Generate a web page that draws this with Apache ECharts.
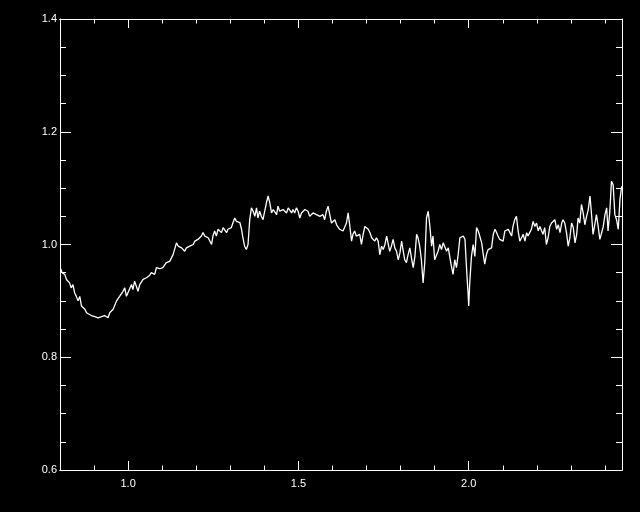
<!DOCTYPE html>
<html><head><meta charset="utf-8">
<script src="https://cdn.jsdelivr.net/npm/echarts@6/dist/echarts.min.js"></script>
<style>html,body{margin:0;padding:0;background:#000;}#c{width:640px;height:512px;}</style>
</head><body><div id="c"></div>
<script>
const wave = [
0.802,0.806,0.814,0.819,0.828,0.833,0.838,0.843,0.848,0.853,0.858,0.863,0.873,0.878,0.882,0.892,0.902,0.912,0.922,0.931,
0.941,0.946,0.956,0.966,0.975,0.980,0.985,0.990,0.995,1.000,1.010,1.014,1.019,1.024,1.029,1.034,1.044,1.054,1.063,1.068,
1.078,1.083,1.093,1.102,1.112,1.122,1.132,1.142,1.147,1.157,1.166,1.171,1.181,
1.191,1.196,1.201,1.205,1.210,1.215,1.220,1.225,1.230,1.235,1.240,1.245,1.249,1.254,1.259,1.264,1.269,1.274,1.279,1.284,
1.289,1.293,1.298,1.303,1.308,1.313,1.318,1.323,1.328,1.333,1.337,1.342,1.347,1.352,1.357,1.362,1.367,1.372,1.377,1.381,
1.386,1.391,1.396,1.401,1.406,1.411,1.416,1.421,1.426,1.431,1.436,1.440,1.445,1.450,1.455,1.460,1.465,1.470,1.475,1.480,
1.484,1.489,1.494,1.499,1.504,1.509,1.514,1.519,1.524,1.528,1.533,
1.538,1.543,1.548,1.553,1.558,1.563,1.568,1.572,1.577,1.582,1.587,1.592,1.597,1.602,1.607,1.612,1.616,1.621,1.626,1.631,
1.636,1.641,1.646,1.651,1.656,1.660,1.665,1.670,1.675,1.680,1.685,1.690,1.695,1.700,1.705,1.710,1.715,1.719,1.724,1.729,
1.734,1.739,1.744,1.749,1.754,1.759,1.763,1.768,1.773,1.778,1.783,1.788,1.793,1.798,1.803,1.807,1.812,1.817,1.822,1.827,
1.832,1.837,1.842,1.847,1.851,1.856,1.861,1.866,1.871,1.876,1.881,1.886,1.891,1.895,1.900,1.905,1.910,1.915,1.920,1.925,
1.930,1.935,
1.940,1.945,1.949,1.954,1.959,1.964,1.969,1.974,1.979,1.984,1.989,1.994,1.998,2.000,2.003,2.008,2.013,2.018,2.023,2.028,
2.033,2.038,2.042,2.047,2.052,2.057,2.062,2.067,2.072,2.077,2.082,2.086,2.091,
2.096,2.101,2.106,2.111,2.116,2.121,2.126,2.130,2.135,2.140,2.145,2.150,2.155,2.160,2.165,2.170,2.174,2.179,2.184,2.189,
2.194,2.199,2.204,2.209,2.214,2.218,2.223,2.228,2.233,2.238,2.243,2.248,2.253,2.258,2.263,2.268,2.273,2.277,2.282,2.287,
2.292,2.297,2.302,2.307,2.312,2.317,2.321,2.326,2.331,2.336,2.341,2.346,2.351,2.356,2.361,2.365,2.370,2.375,2.380,2.385,
2.390,2.395,2.400,2.405,2.409,2.414,2.419,2.424,2.429,2.434,2.439,2.444,2.449
];
const flux = [
0.957,0.950,0.947,0.938,0.932,0.923,0.929,0.914,0.908,0.900,0.908,0.891,0.885,0.879,0.876,0.874,0.872,0.870,0.872,0.874,
0.870,0.879,0.885,0.900,0.908,0.906,0.917,0.923,0.908,0.911,0.929,0.920,0.935,0.932,0.917,0.929,0.938,0.941,0.945,0.950,
0.947,0.959,0.957,0.959,0.968,0.970,0.982,1.003,0.997,0.994,0.988,0.994,0.997,
1.000,1.006,1.003,1.009,1.006,1.015,1.021,1.015,1.018,1.012,1.009,1.000,1.015,1.024,1.015,1.027,1.024,1.021,1.030,1.027,
1.021,1.027,1.024,1.030,1.039,1.047,1.041,1.039,1.039,1.027,1.012,0.997,0.991,1.000,1.044,1.065,1.059,1.050,1.065,1.047,
1.059,1.050,1.044,1.059,1.074,1.086,1.074,1.056,1.062,1.059,1.053,1.068,1.059,1.056,1.062,1.065,1.056,1.065,1.062,1.056,
1.062,1.056,1.065,1.059,1.047,1.056,1.059,1.062,1.065,1.059,1.050,
1.053,1.056,1.056,1.053,1.056,1.050,1.047,1.053,1.044,1.059,1.068,1.053,1.038,1.041,1.044,1.035,1.032,1.027,1.030,1.024,
1.027,1.038,1.056,1.032,1.006,1.018,1.024,1.015,1.012,1.018,1.000,1.018,1.032,1.035,1.027,1.021,1.012,1.015,1.006,1.012,
1.006,0.982,0.997,0.991,1.000,1.015,1.003,0.988,0.997,1.009,0.994,0.988,0.973,0.985,1.006,0.991,0.973,0.968,0.982,0.994,
0.976,0.959,0.979,1.018,1.012,0.997,0.973,0.932,0.968,1.047,1.059,1.032,0.997,1.015,0.973,0.976,0.988,1.000,0.991,1.003,
1.006,0.988,
0.994,0.976,0.962,0.947,0.973,0.959,0.982,1.012,1.009,1.015,1.009,0.953,0.914,0.891,0.932,0.979,1.000,0.979,1.030,1.024,
1.027,1.003,0.985,0.965,0.982,0.991,0.988,0.994,1.018,1.027,1.021,1.015,1.009,
1.009,1.006,1.024,1.021,1.027,1.021,1.015,1.032,1.044,1.050,1.024,1.006,1.012,1.018,1.006,1.021,1.015,1.021,1.027,1.041,
1.032,1.038,1.024,1.032,1.024,1.018,1.030,1.000,1.012,1.032,1.038,1.041,1.044,1.027,1.035,1.021,1.038,1.044,1.038,1.021,
0.997,1.012,1.038,1.030,1.003,1.018,1.047,1.038,1.071,1.056,1.035,1.050,1.062,1.086,1.050,1.018,1.035,1.053,1.032,1.009,
1.012,1.032,1.053,1.065,1.024,1.056,1.112,1.106,1.053,1.044,1.027,1.080,1.103
];
const xMajorTicks = [1.0, 1.5, 2.0];
const xMinorTicks = [0.9, 1.1, 1.2, 1.3, 1.4, 1.6, 1.7, 1.8, 1.9, 2.1, 2.2, 2.3, 2.4];
const xMin = 0.8, xMax = 2.45;
const yMin = 0.6, yMax = 1.4, yStep = 0.2;

const white = '#ffffff';
const font = {color: white, fontSize: 11, fontFamily: 'Liberation Sans'};

function xAx(pos, ticks, len, labels) {
  return {
    type: 'value', position: pos, min: xMin, max: xMax,
    splitLine: {show: false},
    axisLine: {show: true, onZero: false, lineStyle: {color: white, width: 1}},
    axisTick: {show: true, inside: true, length: len, customValues: ticks, lineStyle: {color: white, width: 1}},
    minorTick: {show: false},
    axisLabel: Object.assign({show: labels, customValues: ticks, margin: 8,
      formatter: v => v.toFixed(1)}, font)
  };
}
function yAx(pos, labels) {
  return {
    type: 'value', position: pos, min: yMin, max: yMax, interval: yStep,
    splitLine: {show: false},
    axisLine: {show: true, onZero: false, lineStyle: {color: white, width: 1}},
    axisTick: {show: true, inside: true, length: 11, lineStyle: {color: white, width: 1}},
    minorTick: {show: true, splitNumber: 4, length: 6, lineStyle: {color: white, width: 1}},
    axisLabel: Object.assign({show: labels, margin: 3,
      formatter: v => v.toFixed(1)}, font)
  };
}

const chart = echarts.init(document.getElementById('c'), null, {renderer: 'canvas'});
chart.setOption({
  backgroundColor: '#000000',
  animation: false,
  grid: {left: 60, top: 19, width: 562, height: 451, containLabel: false},
  xAxis: [
    xAx('bottom', xMajorTicks, 9, true),
    xAx('bottom', xMinorTicks, 4.5, false),
    xAx('top', xMajorTicks, 9, false),
    xAx('top', xMinorTicks, 4.5, false)
  ],
  yAxis: [yAx('left', true), yAx('right', false)],
  series: [{
    type: 'line', xAxisIndex: 0, yAxisIndex: 0,
    data: wave.map((w, i) => [w, flux[i]]),
    showSymbol: false, symbol: 'none', clip: true,
    lineStyle: {color: white, width: 1.3}
  }]
});
</script>
</body></html>
